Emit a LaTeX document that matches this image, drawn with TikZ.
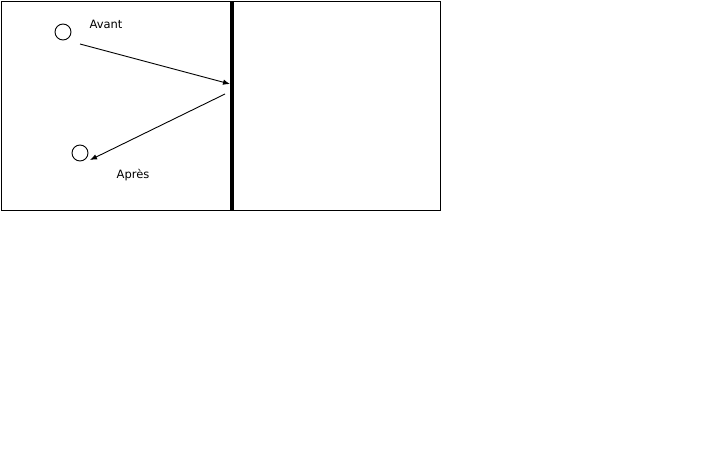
\documentclass[tikz,border=0pt]{standalone}
\usepackage{fontspec}
\setmainfont{DejaVu Sans}
\usetikzlibrary{arrows.meta}
\begin{document}
\begin{tikzpicture}[x=1pt,y=-1pt,line width=0.9pt]
 \useasboundingbox (0,0) rectangle (720,450);
 \draw (1,1) rectangle (440,210);
 \draw[line width=3.5pt] (232,1) -- (232,210);

 \node (avant) at (63,32) [circle,draw,minimum size=16pt,inner sep=0pt] {};
 \node (apres) at (80,153) [circle,draw,minimum size=16pt,inner sep=0pt] {};
 \node (tavant) at (106,24) [font=\fontsize{11.5}{13}\selectfont] {Avant};
 \node (tapres) at (133,175) [font=\fontsize{11.5}{13}\selectfont] {Après};

 \coordinate (a1) at (80,44);
 \coordinate (a2) at (230,84);
 \coordinate (b1) at (225,94);
 \coordinate (b2) at (90,160);
 \path[-{Latex[length=7pt,width=5.5pt]}] (a1) edge (a2) (b1) edge (b2);
\end{tikzpicture}
\end{document}
